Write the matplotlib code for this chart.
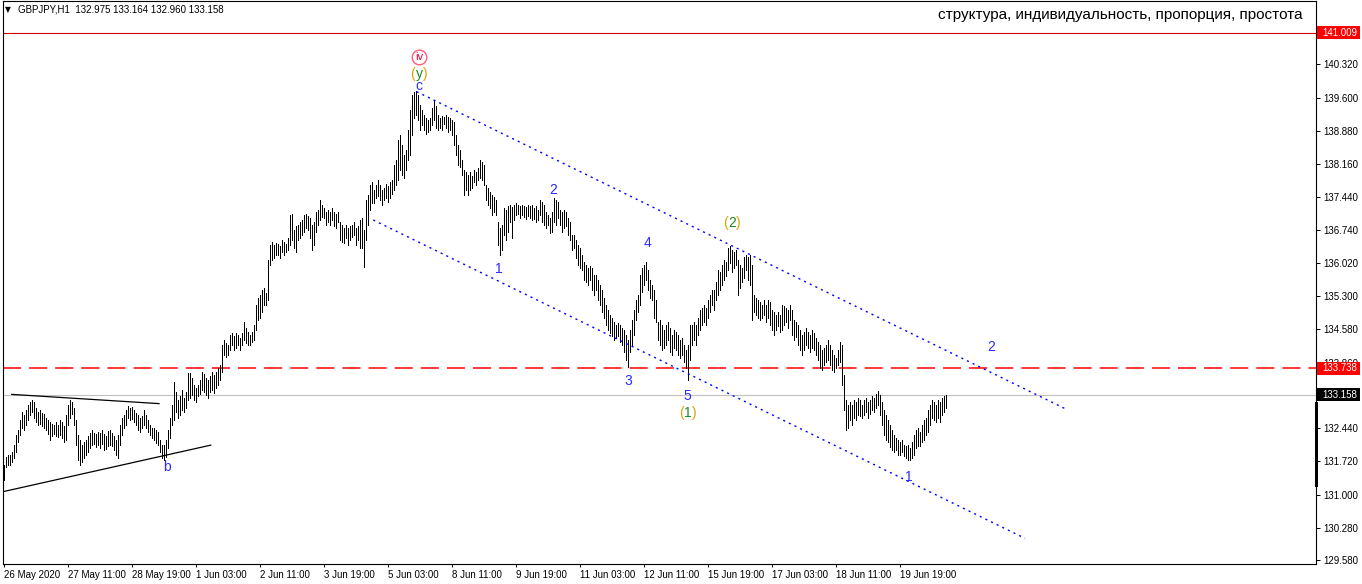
import matplotlib
matplotlib.use('Agg')
import matplotlib.pyplot as plt
from matplotlib.patches import Rectangle

plt.rcParams['lines.scale_dashes'] = False
plt.rcParams['font.family'] = ['Liberation Sans', 'DejaVu Sans']

# ---------------- data ----------------
highs = [
131.64,131.81,131.86,131.86,131.92,132.07,132.29,132.40,132.62,132.79,132.72,132.83,132.94,133.01,133.05,133.01,
132.88,132.79,132.83,132.77,132.75,132.66,132.62,132.57,132.53,132.51,132.57,132.51,132.62,132.57,132.49,132.72,
132.94,133.05,133.01,132.88,132.62,132.29,132.18,132.07,132.14,132.18,132.27,132.33,132.40,132.33,132.31,132.36,
132.33,132.40,132.31,132.27,132.38,132.40,132.33,132.27,132.18,132.29,132.51,132.66,132.72,132.83,132.92,132.88,
132.90,132.83,132.77,132.72,132.66,132.70,132.83,132.72,132.62,132.51,132.44,132.44,132.40,132.36,132.18,132.07,
132.07,132.18,132.40,132.66,132.94,133.44,133.23,133.05,133.14,133.27,133.10,133.23,133.64,133.64,133.53,133.37,
133.31,133.37,133.48,133.66,133.62,133.53,133.48,133.57,133.66,133.59,133.66,133.74,133.81,134.24,134.35,134.28,
134.24,134.46,134.50,134.44,134.50,134.46,134.39,134.50,134.74,134.61,134.52,134.46,134.52,134.67,135.11,135.26,
135.33,135.43,135.48,135.37,136.08,136.41,136.47,136.41,136.45,136.43,136.38,136.52,136.47,136.43,136.56,137.06,
137.08,136.73,136.82,136.84,136.91,136.95,137.06,137.08,137.04,136.99,136.84,136.91,137.12,137.17,137.38,137.28,
137.21,137.12,137.17,137.12,137.21,137.12,137.08,137.12,136.91,136.84,136.78,136.84,136.78,136.82,136.84,136.91,
136.78,136.82,136.95,136.99,136.73,137.38,137.49,137.71,137.77,137.60,137.71,137.82,137.71,137.60,137.64,137.73,
137.69,137.77,137.82,138.14,138.25,138.68,138.79,138.58,138.36,138.47,138.90,139.33,139.66,139.72,139.74,139.66,
139.44,139.33,139.23,139.16,139.12,139.16,139.38,139.55,139.42,139.23,139.16,139.21,139.19,139.23,139.19,139.16,
139.12,139.07,138.79,138.58,138.47,138.25,138.03,137.99,137.93,137.99,137.90,138.03,137.99,138.07,138.25,138.20,
138.14,137.71,137.64,137.56,137.49,137.45,137.38,136.91,136.78,136.84,137.21,137.17,137.25,137.28,137.23,137.28,
137.32,137.28,137.25,137.28,137.25,137.23,137.28,137.25,137.28,137.21,137.25,137.17,137.38,137.34,137.28,137.12,
137.06,136.99,137.12,137.43,137.38,137.34,137.17,137.12,137.17,137.12,136.99,136.91,136.63,136.63,136.52,136.41,
136.34,136.19,136.04,135.98,135.91,135.95,135.91,135.76,135.76,135.65,135.54,135.43,135.26,135.11,135.00,134.89,
134.83,134.74,134.67,134.72,134.67,134.61,134.57,134.46,134.35,134.57,134.78,135.00,135.22,135.33,135.76,135.91,
135.98,136.04,135.87,135.65,135.54,135.43,135.22,134.74,134.78,134.67,134.57,134.67,134.74,134.61,134.46,134.57,
134.52,134.46,134.35,134.39,134.24,134.13,134.24,134.67,134.67,134.74,134.67,134.83,135.00,135.04,135.11,135.04,
135.22,135.33,135.43,135.43,135.61,135.87,135.82,135.98,136.08,136.04,136.34,136.38,136.30,136.26,136.30,136.08,
135.98,135.91,136.15,136.19,136.15,136.19,135.98,135.33,135.26,135.22,135.17,135.11,135.22,135.11,135.22,135.17,
135.00,134.96,134.89,134.96,134.89,135.11,135.09,135.04,135.00,135.11,135.00,134.78,134.74,134.67,134.57,134.46,
134.52,134.61,134.52,134.46,134.57,134.50,134.39,134.31,134.24,134.13,134.17,134.24,134.35,134.24,134.13,134.02,
133.96,134.13,134.31,134.24,133.59,133.05,132.94,133.01,132.94,133.05,133.01,133.10,133.05,132.94,133.05,133.10,
133.01,133.05,133.14,133.10,133.18,133.25,133.16,133.01,132.83,132.72,132.62,132.51,132.40,132.29,132.22,132.18,
132.14,132.18,132.07,132.05,132.07,132.01,132.14,132.29,132.40,132.44,132.36,132.51,132.62,132.66,132.83,132.94,
133.05,133.01,132.94,133.05,133.01,133.10,133.14,133.16,
]
lows = [
131.32,131.60,131.64,131.64,131.70,131.79,131.92,132.14,132.29,132.44,132.40,132.51,132.62,132.72,132.79,132.66,
132.57,132.51,132.53,132.49,132.44,132.40,132.31,132.18,132.27,132.31,132.27,132.25,132.29,132.22,132.14,132.18,
132.51,132.66,132.75,132.51,132.07,131.75,131.64,131.70,131.79,131.86,131.92,132.01,132.07,132.10,132.03,132.07,
132.01,132.10,131.97,131.99,132.05,132.07,132.05,131.97,131.86,131.79,132.07,132.29,132.44,132.51,132.66,132.62,
132.64,132.57,132.51,132.40,132.36,132.44,132.51,132.44,132.36,132.29,132.22,132.18,132.12,132.07,131.92,131.79,
131.75,131.81,132.01,132.22,132.51,132.62,132.79,132.66,132.72,132.83,132.79,132.88,133.05,133.10,133.16,133.05,
133.01,133.14,133.18,133.27,133.23,133.16,133.10,133.23,133.27,133.20,133.31,133.37,133.48,133.66,134.02,133.98,
134.02,134.13,134.24,134.13,134.17,134.24,134.13,134.24,134.35,134.28,134.24,134.24,134.31,134.35,134.57,134.78,
134.83,134.96,135.11,135.11,135.22,135.98,136.08,136.12,136.19,136.19,136.12,136.26,136.19,136.26,136.30,136.41,
136.52,136.34,136.26,136.52,136.56,136.63,136.69,136.78,136.73,136.56,136.30,136.41,136.69,136.84,136.95,137.02,
137.00,136.84,136.91,136.84,136.95,136.82,136.78,136.91,136.52,136.47,136.45,136.56,136.41,136.52,136.58,136.63,
136.41,136.52,136.34,136.34,135.93,136.52,136.84,137.17,137.32,137.32,137.43,137.47,137.38,137.28,137.38,137.43,
137.34,137.43,137.51,137.60,137.71,137.82,138.03,137.93,137.86,138.03,138.25,138.36,138.79,139.16,139.23,139.12,
138.90,139.01,138.90,138.81,138.86,138.90,139.01,139.12,138.94,138.90,138.94,138.90,139.03,138.94,138.86,138.90,
138.79,138.58,138.36,138.14,138.10,137.93,137.49,137.60,137.49,137.60,137.64,137.77,137.71,137.82,137.86,137.82,
137.71,137.38,137.28,137.21,137.06,137.12,137.06,136.41,136.19,136.30,136.63,136.52,136.69,136.91,136.56,136.95,
137.06,137.08,137.00,137.06,137.02,136.97,137.04,137.00,136.95,136.97,136.91,136.95,137.06,136.91,136.84,136.78,
136.84,136.67,136.69,136.91,136.84,136.99,136.84,136.69,136.78,136.82,136.63,136.52,136.30,136.34,136.12,135.98,
135.91,135.87,135.65,135.61,135.54,135.65,135.43,135.33,135.43,135.22,135.11,134.96,134.83,134.67,134.57,134.50,
134.44,134.35,134.39,134.44,134.31,134.24,134.09,133.92,133.77,134.09,134.24,134.46,134.78,134.96,135.11,135.39,
135.54,135.65,135.43,135.26,135.22,134.83,134.74,134.35,134.24,134.13,134.17,134.24,134.35,134.09,134.02,134.17,
134.13,134.02,133.96,134.02,133.87,133.74,133.48,133.92,134.24,134.35,134.24,134.46,134.57,134.67,134.74,134.67,
134.83,134.96,135.11,135.00,135.22,135.33,135.43,135.54,135.65,135.74,135.87,136.02,135.82,135.91,135.98,135.33,
135.48,135.61,135.69,135.87,135.65,135.54,134.78,134.96,134.89,134.83,134.78,134.83,134.89,134.74,134.83,134.67,
134.57,134.46,134.57,134.65,134.52,134.57,134.67,134.74,134.61,134.78,134.46,134.35,134.41,134.24,134.13,134.02,
134.13,134.24,134.17,134.09,134.17,134.13,134.02,133.92,133.74,133.70,133.81,133.87,133.92,133.81,133.70,133.66,
133.74,133.81,133.87,133.37,132.83,132.40,132.44,132.62,132.51,132.66,132.62,132.72,132.70,132.66,132.72,132.79,
132.66,132.75,132.83,132.79,132.88,132.94,132.72,132.51,132.29,132.18,132.14,132.03,131.97,131.92,131.97,131.86,
131.86,131.92,131.84,131.79,131.75,131.75,131.79,131.86,132.01,132.05,132.05,132.14,132.18,132.29,132.36,132.51,
132.66,132.62,132.57,132.66,132.57,132.72,132.79,132.88,
]

time_labels = ['26 May 2020', '27 May 11:00', '28 May 19:00', '1 Jun 03:00', '2 Jun 11:00',
               '3 Jun 19:00', '5 Jun 03:00', '8 Jun 11:00', '9 Jun 19:00', '11 Jun 03:00',
               '12 Jun 11:00', '15 Jun 19:00', '17 Jun 03:00', '18 Jun 11:00', '19 Jun 19:00']
label_step = 32

price_ticks = [140.320, 139.600, 138.880, 138.160, 137.440, 136.740, 136.020, 135.300,
               134.580, 133.860, 132.440, 131.720, 131.000, 130.280, 129.580]

last_price = 133.158
level_red = 133.738
level_top = 141.009
title_text = 'GBPJPY,H1  132.975 133.164 132.960 133.158'
note_text = 'структура, индивидуальность, пропорция, простота'

# trend lines: (x0, p0, x1, p1)
tri_upper = (3.85, 133.17, 77.5, 132.97)
tri_lower = (-0.65, 131.06, 103.35, 132.07)
chan_upper = (206.35, 139.73, 532.0, 132.83)
chan_lower = (184.65, 136.95, 510.5, 130.05)

# wave labels: (x, price, text, kind)
wave_labels = [
    (81.5, 131.60, 'b', 'blue'),
    (207.5, 139.85, 'c', 'blue'),
    (247.5, 135.89, '1', 'blue'),
    (274.5, 137.60, '2', 'blue'),
    (312.0, 133.46, '3', 'blue'),
    (321.5, 136.45, '4', 'blue'),
    (341.5, 133.14, '5', 'blue'),
    (452.5, 131.38, '1', 'blue'),
    (493.5, 134.20, '2', 'blue'),
    (207.5, 140.11, 'y', 'paren'),
    (342.0, 132.77, '1', 'paren'),
    (364.0, 136.89, '2', 'paren'),
]
circle_label = (207.5, 140.48, 'iv')

# ---------------- figure ----------------
W, H = 1362, 584
fig = plt.figure(figsize=(W / 100, H / 100), dpi=100)
fig.patch.set_facecolor('white')
L, R, T, B = 3, 1316, 1, 564
ax = fig.add_axes([L / W, 1 - B / H, (R - L) / W, (B - T) / H])
ax.set_facecolor('white')
ax.set_xlim(-0.5, 656)
ax.set_ylim(129.494, 141.696)

n = len(highs)
ax.vlines(range(n), lows, highs, colors='black', linewidth=0.6, antialiased=False, zorder=3)

# horizontal levels
ax.axhline(level_top, color='#d00000', lw=0.8, zorder=2)
ax.axhline(last_price, color='#c0c0c0', lw=0.8, zorder=1)
ax.axhline(level_red, color='#ff0000', lw=1.1, linestyle=(0, (13, 5.8)), zorder=2)

# trend lines
for ln in (tri_upper, tri_lower):
    ax.plot([ln[0], ln[2]], [ln[1], ln[3]], color='black', lw=0.9, zorder=4)
for ln in (chan_upper, chan_lower):
    ax.plot([ln[0], ln[2]], [ln[1], ln[3]], color='#0000ff', lw=1.0,
            linestyle=(0, (1.5, 3.0)), zorder=4)

# wave labels
for x, p, t, kind in wave_labels:
    if kind == 'blue':
        ax.text(x, p, t, color='#2a2aff', fontsize=10, ha='center', va='center', zorder=6)
    else:
        ax.text(x, p, t, color='#1f8a1f', fontsize=10, ha='center', va='center', zorder=7)
        ax.annotate('(', (x, p), xytext=(-2.9, 0), textcoords='offset points',
                    color='#e0a000', fontsize=10, ha='right', va='center', zorder=6)
        ax.annotate(')', (x, p), xytext=(2.9, 0), textcoords='offset points',
                    color='#e0a000', fontsize=10, ha='left', va='center', zorder=6)
cx, cp, ct = circle_label
ax.plot([cx], [cp], marker='o', markersize=10.5, mfc='none', mec='#ff5c7a', mew=1.0, zorder=6)
ax.text(cx, cp, ct, color='#e8003c', fontsize=8, ha='center', va='center', zorder=7)

# axes styling
for s in ax.spines.values():
    s.set_color('black')
    s.set_linewidth(0.8)
ax.yaxis.tick_right()
ax.set_yticks(price_ticks)
ax.set_yticklabels(['%.3f' % v for v in price_ticks])
ax.tick_params(axis='y', direction='out', length=3, width=0.7, pad=2, labelsize=7,
               colors='black')
xt = [i * label_step for i in range(len(time_labels))]
ax.set_xticks(xt)
ax.set_xticklabels(time_labels, ha='left')
ax.tick_params(axis='x', direction='out', length=2.5, width=0.7, pad=1.5, labelsize=7,
               colors='black')

# price boxes on the axis
fig.canvas.draw()
def price_box(p, fc):
    yd = ax.transData.transform((0, p))[1]
    fig.add_artist(Rectangle((1317 / W, (yd - 6.5) / H), 43 / W, 13 / H,
                             transform=fig.transFigure, facecolor=fc,
                             edgecolor='none', zorder=5))
    fig.text(1322 / W, yd / H, '%.3f' % p, color='white', fontsize=7,
             ha='left', va='center', zorder=6)

price_box(level_top, '#ff0000')
price_box(level_red, '#ff0000')
price_box(last_price, '#000000')

# thick black marker on the price axis
y_a = ax.transData.transform((0, last_price))[1] - 7
y_b = ax.transData.transform((0, 131.16))[1]
fig.add_artist(Rectangle((1315 / W, y_b / H), 3 / W, (y_a - y_b) / H,
                         transform=fig.transFigure, facecolor='black',
                         edgecolor='none', zorder=5))

# header texts
fig.text(5 / W, 1 - 10 / H, '▼', fontsize=5.5, ha='left', va='center',
         family=['DejaVu Sans'], color='black')
fig.text(18 / W, 1 - 10 / H, title_text, fontsize=7, ha='left', va='center', color='black')
fig.text(1303 / W, 1 - 15 / H, note_text, fontsize=11, ha='right', va='center', color='black')

fig.savefig('out.png', dpi=100, facecolor='white')
